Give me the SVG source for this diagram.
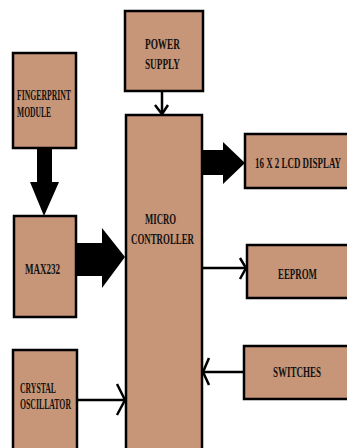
<svg xmlns="http://www.w3.org/2000/svg" width="347" height="448" viewBox="0 0 347 448">
<style>
.box{fill:#C79577;stroke:#000;stroke-width:2.5}
.fill{fill:#C79577}
.edge{fill:none;stroke:#000;stroke-width:2.5;stroke-linejoin:miter}
.t{font-family:"Liberation Serif","Times New Roman",serif;font-weight:bold;font-size:15.5px;fill:#111}
.ln{stroke:#000;stroke-width:2.5;fill:none}
.hd{stroke:#000;stroke-width:2.5;fill:none;stroke-linejoin:miter}
.big{fill:#000}
</style>
<rect width="347" height="448" fill="#fff"/>
<g id="power-supply">
<rect class="box" x="125" y="11" width="78" height="80"/>
<text class="t" transform="translate(145,49) scale(0.6,1)" textLength="58.3" lengthAdjust="spacingAndGlyphs">POWER</text>
<text class="t" transform="translate(145,69) scale(0.6,1)" textLength="58.3" lengthAdjust="spacingAndGlyphs">SUPPLY</text>
</g>
<g id="fingerprint-module">
<rect class="box" x="13" y="53" width="63" height="95"/>
<text class="t" transform="translate(17,100) scale(0.6,1)" textLength="90" lengthAdjust="spacingAndGlyphs">FINGERPRINT</text>
<text class="t" transform="translate(17,117) scale(0.6,1)" textLength="56.7" lengthAdjust="spacingAndGlyphs">MODULE</text>
</g>
<g id="microcontroller">
<rect class="box" x="126" y="115" width="76" height="345"/>
<text class="t" transform="translate(145,224) scale(0.6,1)" textLength="51.7" lengthAdjust="spacingAndGlyphs">MICRO</text>
<text class="t" transform="translate(131,244) scale(0.6,1)" textLength="105" lengthAdjust="spacingAndGlyphs">CONTROLLER</text>
</g>
<g id="lcd-display">
<rect class="fill" x="245" y="134" width="102" height="54"/>
<path class="edge" d="M347,134 H245 V188 H347"/>
<text class="t" transform="translate(255,168) scale(0.6,1)" textLength="143.3" lengthAdjust="spacingAndGlyphs">16 X 2 LCD DISPLAY</text>
</g>
<g id="max232">
<rect class="box" x="14" y="216" width="62" height="101"/>
<text class="t" transform="translate(25,274) scale(0.6,1)" textLength="58.3" lengthAdjust="spacingAndGlyphs">MAX232</text>
</g>
<g id="eeprom">
<rect class="fill" x="247" y="245" width="100" height="53"/>
<path class="edge" d="M347,245 H247 V298 H347"/>
<text class="t" transform="translate(278,279) scale(0.6,1)" textLength="65" lengthAdjust="spacingAndGlyphs">EEPROM</text>
</g>
<g id="switches">
<rect class="fill" x="244" y="346" width="103" height="53"/>
<path class="edge" d="M347,346 H244 V399 H347"/>
<text class="t" transform="translate(273,377) scale(0.6,1)" textLength="80" lengthAdjust="spacingAndGlyphs">SWITCHES</text>
</g>
<g id="crystal-oscillator">
<rect class="box" x="13" y="350" width="64" height="110"/>
<text class="t" transform="translate(20,393) scale(0.6,1)" textLength="60" lengthAdjust="spacingAndGlyphs">CRYSTAL</text>
<text class="t" transform="translate(20,409) scale(0.6,1)" textLength="85" lengthAdjust="spacingAndGlyphs">OSCILLATOR</text>
</g>
<g id="connectors">
<path class="big" d="M37,149 H52 V182 H59 L44,216 L30,182 H37 Z"/>
<path class="big" d="M77,243 H102 V228 L125,257 L102,288 V276 H77 Z"/>
<path class="big" d="M203,150 H223 V142 L245,163 L223,184 V175 H203 Z"/>
<line class="ln" x1="162" y1="92" x2="162" y2="114"/>
<path class="hd" d="M155,105 L162,114 L168,105"/>
<line class="ln" x1="203" y1="268" x2="246" y2="268"/>
<path class="hd" d="M240,258 L246,268 L240,279"/>
<line class="ln" x1="243" y1="372" x2="203" y2="372"/>
<path class="hd" d="M209,358 L203,372 L209,385"/>
<line class="ln" x1="78" y1="400" x2="125" y2="400"/>
<path class="hd" d="M117,384 L125,400 L117,415"/>
</g>
</svg>
